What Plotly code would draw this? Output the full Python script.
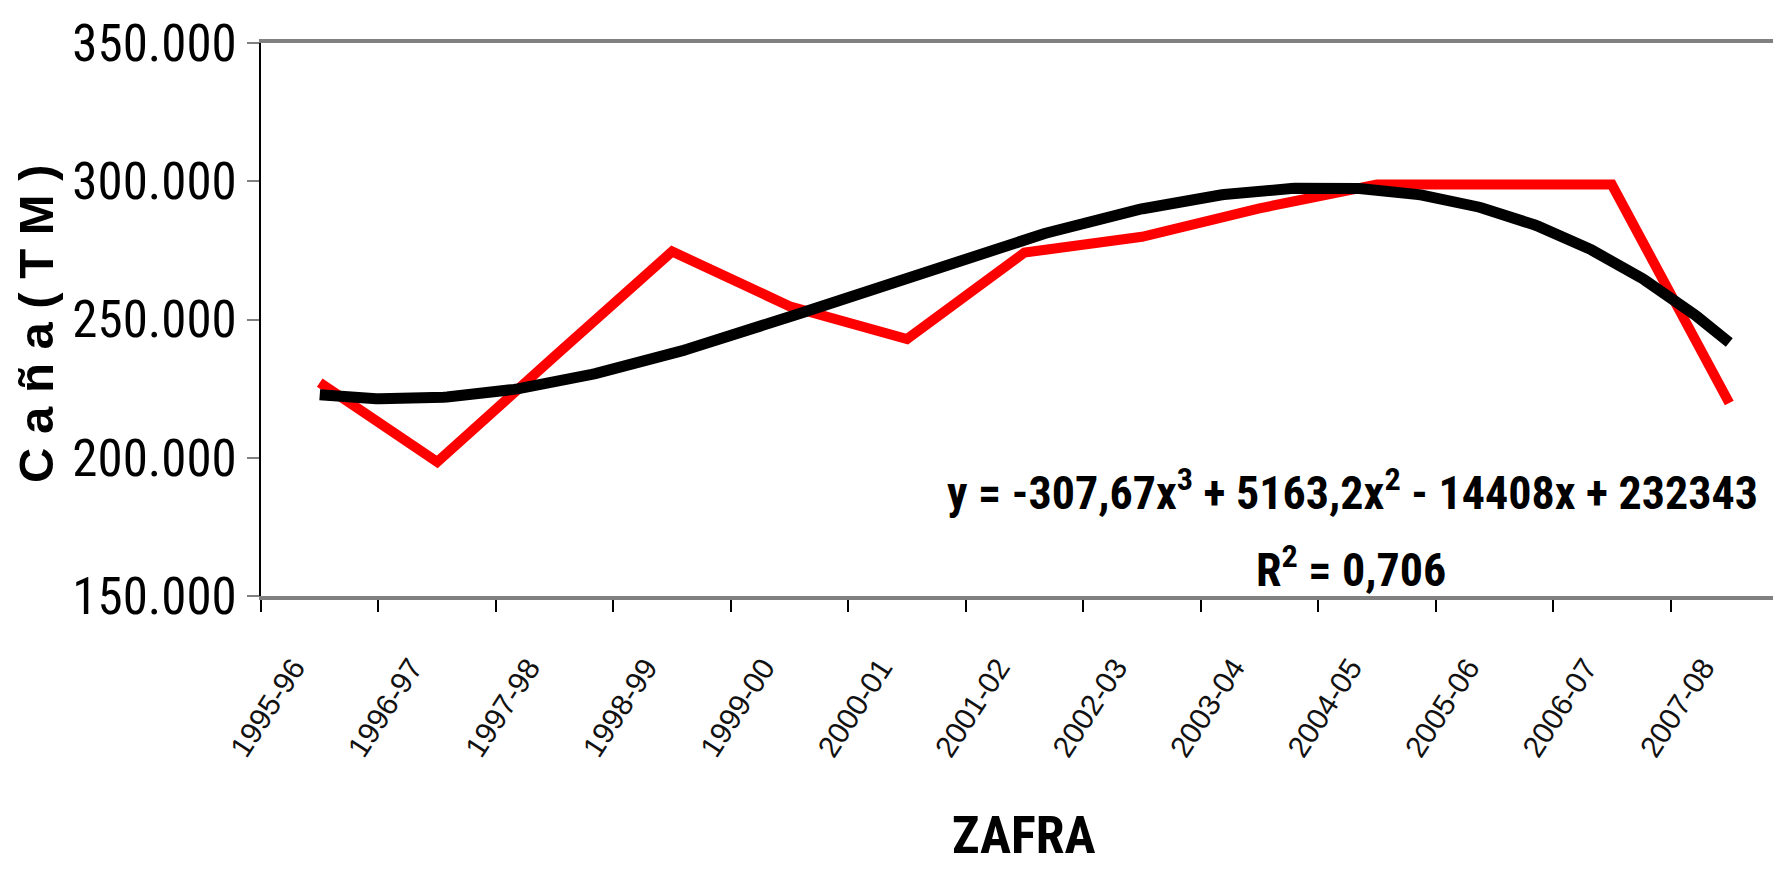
import numpy as np
import plotly.graph_objects as go

# ---- data ----
zafras = ["1995-96", "1996-97", "1997-98", "1998-99", "1999-00", "2000-01", "2001-02",
          "2002-03", "2003-04", "2004-05", "2005-06", "2006-07", "2007-08"]
cana_tm = [227200, 198500, 236700, 274600, 254800, 242900, 274200,
           279900, 290200, 298800, 298800, 298800, 219800]
# cubic trendline coefficients shown on the chart (x = 1..n)
trend_coefs = [-307.67, 5163.2, -14408, 232343]
y_ticks = [150000, 200000, 250000, 300000, 350000]

n = len(zafras)
xi = list(range(n))
xt = np.linspace(0, n - 1, 400)
yt = np.polyval(trend_coefs, xt + 1)

NARROW = "Liberation Sans Narrow, Arial Narrow, Roboto Condensed, Liberation Sans, sans-serif"

fig = go.Figure()
fig.add_trace(go.Scatter(x=xi, y=cana_tm, mode="lines",
                         line=dict(color="#ff0000", width=10), hoverinfo="skip"))
fig.add_trace(go.Scatter(x=xt, y=yt, mode="lines",
                         line=dict(color="#000000", width=11), hoverinfo="skip"))

fig.update_layout(
    width=1781, height=869,
    margin=dict(l=253, r=1, t=35, b=281),
    paper_bgcolor="white", plot_bgcolor="white",
    showlegend=False,
    separators=",.",
    xaxis=dict(
        range=[-0.5, n - 0.5],
        tickvals=xi, ticktext=zafras,
        ticks="", tickangle=-57,
        tickfont=dict(family="Liberation Sans, Arial, sans-serif", size=30, color="#111"),
        ticklabelstandoff=38, ticklabelshift=-26,
        showgrid=False, zeroline=False,
        showline=True, linecolor="#808080", linewidth=4, mirror=True,
        minor=dict(tickvals=[i - 0.5 for i in range(n + 1)], ticks="outside",
                   ticklen=12, tickcolor="black", tickwidth=2, showgrid=False),
    ),
    yaxis=dict(
        range=[150000, 350000],
        tickvals=y_ticks, tickformat=",d",
        ticks="outside", ticklen=12, tickcolor="#808080", tickwidth=2,
        tickfont=dict(family=NARROW, size=51, color="black"),
        showgrid=False, zeroline=False,
        showline=True, linecolor="black", linewidth=2,
    ),
    shapes=[dict(type="line", xref="paper", yref="paper", x0=1, x1=1, y0=0, y1=1,
                 line=dict(color="#808080", width=3))],
    annotations=[
        dict(text="C a ñ a ( T M )", textangle=-90, xref="paper", yref="paper",
             x=(28 - 253) / 1527, y=0.492, xanchor="center", yanchor="middle", showarrow=False,
             font=dict(family="Liberation Sans, Arial, sans-serif", size=49, color="black",
                       weight="bold")),
        dict(text="ZAFRA", xref="paper", yref="paper",
             x=(1016 - 253) / 1527, y=(588 - 860) / 553, xanchor="center", yanchor="bottom",
             showarrow=False,
             font=dict(family=NARROW, size=52, color="black", weight="bold")),
        dict(text="y = -307,67x<sup>3</sup> + 5163,2x<sup>2</sup> - 14408x + 232343",
             xref="paper", yref="paper", x=(1344 - 253) / 1527, y=(588 - 482) / 553,
             xanchor="center", yanchor="middle", showarrow=False,
             font=dict(family=NARROW, size=46, color="black", weight="bold")),
        dict(text="R<sup>2</sup> = 0,706",
             xref="paper", yref="paper", x=(1343 - 253) / 1527, y=(588 - 559) / 553,
             xanchor="center", yanchor="middle", showarrow=False,
             font=dict(family=NARROW, size=46, color="black", weight="bold")),
    ],
)

fig.write_html("out.html")
